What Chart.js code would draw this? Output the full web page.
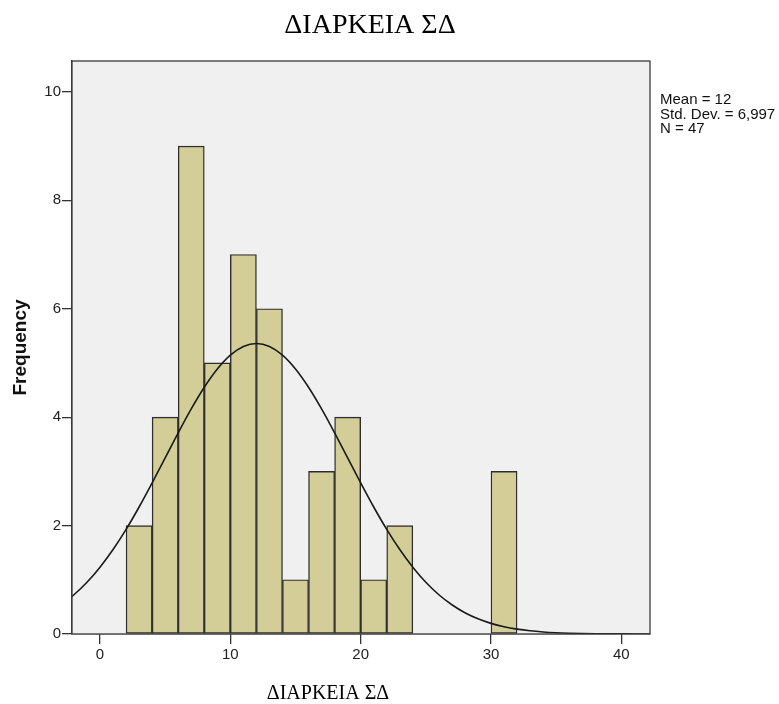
<!DOCTYPE html>
<html>
<head>
<meta charset="utf-8">
<script src="https://cdn.jsdelivr.net/npm/chart.js@4/dist/chart.umd.min.js"></script>
<style>
  html, body { margin: 0; padding: 0; background: #ffffff; }
  #wrap { width: 779px; height: 704px; position: relative; }
</style>
</head>
<body>
<div id="wrap"><canvas id="c" width="779" height="704"></canvas></div>
<script>
// ---- data ----
const chartTitle = "ΔΙΑΡΚΕΙΑ ΣΔ";
const xAxisTitle = "ΔΙΑΡΚΕΙΑ ΣΔ";
const yAxisTitle = "Frequency";
const statsLines = ["Mean = 12", "Std. Dev. = 6,997", "N = 47"];

const binStarts = [2, 4, 6, 8, 10, 12, 14, 16, 18, 20, 22, 24, 26, 28, 30];
const binWidth = 2;
const counts    = [2, 4, 9, 5, 7, 6, 1, 3, 4, 1, 2, 0, 0, 0, 3];

const curveX = [-3, -2, -1, 0, 1, 2, 3, 4, 5, 6, 7, 8, 9, 10, 11, 12, 13, 14, 15, 16, 17, 18, 19, 20,
                21, 22, 23, 24, 25, 26, 27, 28, 29, 30, 31, 32, 33, 34, 35, 36, 37, 38, 39, 40, 41, 42, 43];
const curveY = [0.539, 0.724, 0.954, 1.232, 1.558, 1.930, 2.343, 2.788, 3.249, 3.711, 4.152, 4.552, 4.889,
                5.145, 5.305, 5.360, 5.305, 5.145, 4.889, 4.552, 4.152, 3.711, 3.249, 2.788, 2.343, 1.930,
                1.558, 1.232, 0.954, 0.724, 0.539, 0.392, 0.280, 0.196, 0.134, 0.090, 0.059, 0.038, 0.024,
                0.015, 0.009, 0.005, 0.003, 0.002, 0.001, 0.001, 0.000];

const xTicks = [0, 10, 20, 30, 40];
const yTicks = [0, 2, 4, 6, 8, 10];
const xRange = [-2.15, 42.2];
const yRange = [0, 10.57];

// ---- build datasets ----
const barData = binStarts.map((s, i) => ({ x: s + binWidth / 2, y: counts[i] }));
const curveData = curveX.map((x, i) => ({ x: x, y: curveY[i] }));

const SANS = '"Liberation Sans", Arial, sans-serif';
const SERIF = '"Liberation Serif", "Times New Roman", serif';

const decor = {
  id: 'decor',
  beforeDatasetsDraw(chart) {
    const { ctx, chartArea: a } = chart;
    ctx.save();
    ctx.fillStyle = '#f0f0f0';
    ctx.fillRect(a.left, a.top, a.right - a.left, a.bottom - a.top);
    ctx.restore();
  },
  afterDraw(chart) {
    const { ctx, chartArea: a } = chart;
    ctx.save();
    ctx.strokeStyle = '#3a3a3a';
    ctx.lineWidth = 1.3;
    ctx.strokeRect(a.left, a.top, a.right - a.left, a.bottom - a.top);

    ctx.fillStyle = '#000';
    ctx.textAlign = 'center';
    ctx.textBaseline = 'alphabetic';
    ctx.font = '28px ' + SERIF;
    ctx.fillText(chartTitle, 370, 33);

    ctx.font = '20px ' + SERIF;
    ctx.fillText(xAxisTitle, 328, 699);

    ctx.save();
    ctx.translate(21, (a.top + a.bottom) / 2);
    ctx.rotate(-Math.PI / 2);
    ctx.font = 'bold 19px ' + SANS;
    ctx.textBaseline = 'middle';
    ctx.fillStyle = '#111';
    ctx.fillText(yAxisTitle, 0, 0);
    ctx.restore();

    ctx.font = '15px ' + SANS;
    ctx.textAlign = 'left';
    ctx.fillStyle = '#111';
    statsLines.forEach((t, i) => ctx.fillText(t, 660, 104 + i * 14.5));
    ctx.restore();
  }
};

new Chart(document.getElementById('c'), {
  type: 'bar',
  data: {
    datasets: [
      {
        type: 'line',
        data: curveData,
        borderColor: '#1a1a1a',
        borderWidth: 1.6,
        pointRadius: 0,
        fill: false,
        cubicInterpolationMode: 'monotone',
        order: 0
      },
      {
        type: 'bar',
        data: barData,
        backgroundColor: '#d3ce97',
        borderColor: '#2e2e2e',
        borderWidth: 1.4,
        borderSkipped: false,
        barPercentage: 1.0,
        categoryPercentage: 1.0,
        order: 1
      }
    ]
  },
  options: {
    responsive: false,
    animation: false,
    events: [],
    layout: { padding: { top: 61, right: 129, left: 0, bottom: 0 } },
    plugins: {
      legend: { display: false },
      title: { display: false },
      tooltip: { enabled: false }
    },
    scales: {
      x: {
        type: 'linear',
        min: xRange[0],
        max: xRange[1],
        offset: false,
        afterFit(scale) { scale.height = 70; },
        afterBuildTicks(scale) { scale.ticks = xTicks.map(v => ({ value: v })); },
        grid: { offset: false, drawOnChartArea: false, drawTicks: true, tickLength: 10, color: '#333', lineWidth: 1.3 },
        border: { display: true, color: '#3a3a3a', width: 1.3 },
        ticks: { font: { family: SANS, size: 15 }, color: '#222', padding: 2, maxRotation: 0 }
      },
      y: {
        type: 'linear',
        min: yRange[0],
        max: yRange[1],
        afterFit(scale) { scale.width = 72; },
        afterBuildTicks(scale) { scale.ticks = yTicks.map(v => ({ value: v })); },
        grid: { offset: false, drawOnChartArea: false, drawTicks: true, tickLength: 10, color: '#333', lineWidth: 1.3 },
        border: { display: true, color: '#3a3a3a', width: 1.3 },
        ticks: { font: { family: SANS, size: 15 }, color: '#222', padding: 1 }
      }
    }
  },
  plugins: [decor]
});
</script>
</body>
</html>
